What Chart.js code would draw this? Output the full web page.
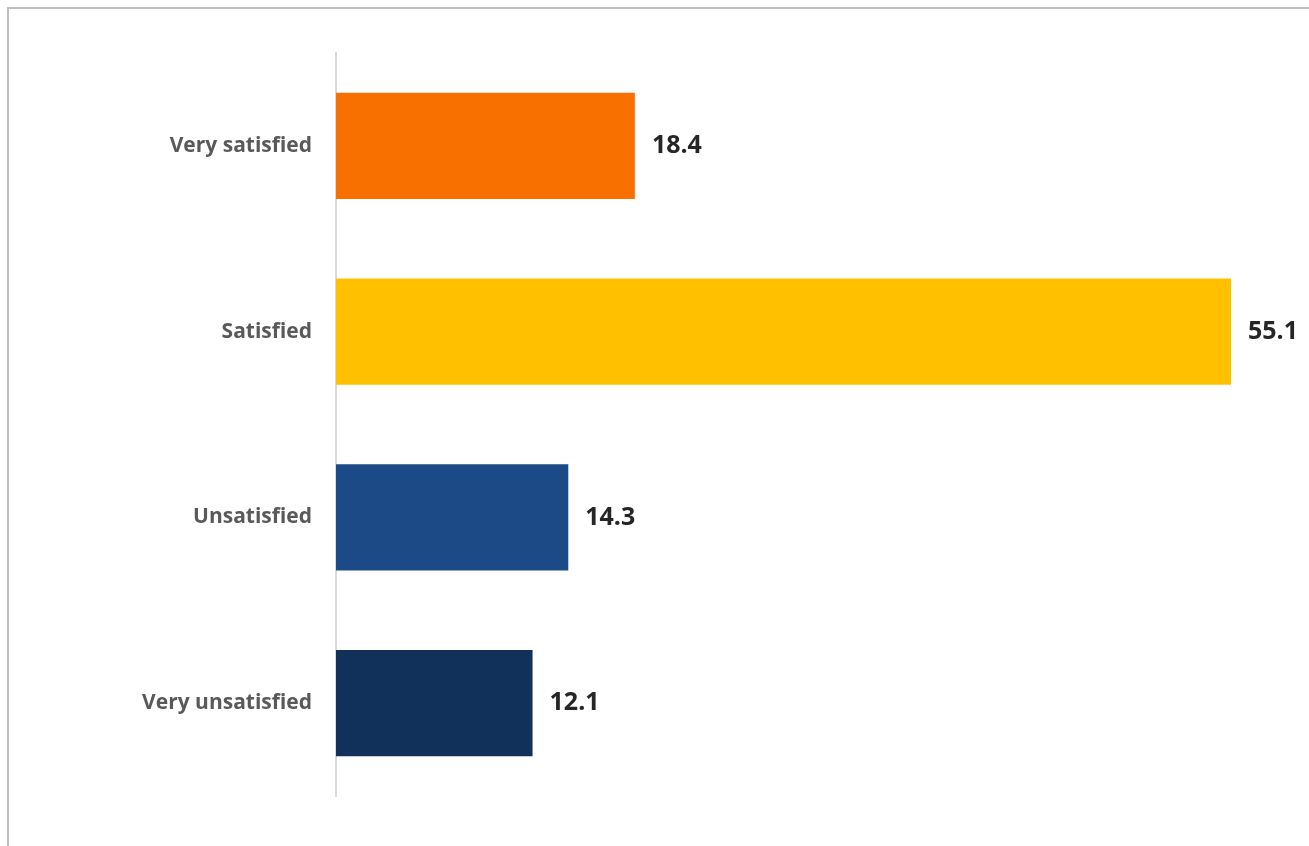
<!DOCTYPE html>
<html>
<head>
<meta charset="utf-8">
<script src="https://cdn.jsdelivr.net/npm/chart.js@4/dist/chart.umd.min.js"></script>
<style>
  html, body { margin: 0; padding: 0; background: #fff; overflow: hidden; }
  .frame { position: absolute; left: 7px; top: 7px; width: 1400px; height: 900px;
           border-left: 2px solid #bfbfbf; border-top: 2px solid #bfbfbf; }
  .wrap { position: absolute; left: 0; top: 0; width: 1309px; height: 846px; }
</style>
</head>
<body>
<div class="frame"></div>
<div class="wrap"><canvas id="chart"></canvas></div>
<script>
/* ─── Data ────────────────────────────────────────────── */
const categories = ['Very satisfied', 'Satisfied', 'Unsatisfied', 'Very unsatisfied'];
const values     = [18.4, 55.1, 14.3, 12.1];
const barColors  = ['#F77000', '#FFC000', '#1C4A87', '#11315A'];

const FONT = "'Open Sans', 'Liberation Sans', sans-serif";

/* ─── Value labels at bar ends ────────────────────────── */
const valueLabels = {
  id: 'valueLabels',
  afterDatasetsDraw(chart) {
    const ctx = chart.ctx;
    const meta = chart.getDatasetMeta(0);
    ctx.save();
    ctx.font = 'bold 25px ' + FONT;
    ctx.fillStyle = '#262626';
    ctx.textAlign = 'left';
    ctx.textBaseline = 'middle';
    meta.data.forEach((bar, i) => {
      ctx.fillText(values[i].toFixed(1), bar.x + 17, bar.y);
    });
    ctx.restore();
  }
};

new Chart(document.getElementById('chart'), {
  type: 'bar',
  data: {
    labels: categories,
    datasets: [{
      data: values,
      backgroundColor: barColors,
      borderWidth: 0,
      categoryPercentage: 1,
      barPercentage: 0.571,
    }]
  },
  options: {
    indexAxis: 'y',
    responsive: true, maintainAspectRatio: false,
    animation: false,
    layout: { padding: { top: 53, bottom: 50, left: 0, right: 0 } },
    plugins: { legend: { display: false }, tooltip: { enabled: false } },
    scales: {
      x: {
        display: false, min: 0, max: 59.9,
        afterFit: s => { s.height = 0; }
      },
      y: {
        grid: { display: false },
        border: { display: true, color: '#d9d9d9', width: 2 },
        ticks: { color: '#595959', padding: 16, font: { family: FONT, size: 21, weight: 'bold' } },
        afterFit: s => { s.width = 336; }
      }
    }
  },
  plugins: [valueLabels]
});
</script>
</body>
</html>
